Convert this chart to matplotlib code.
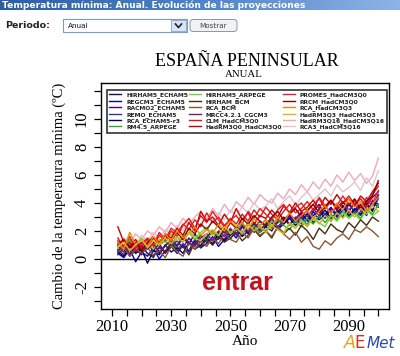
import numpy as np
import matplotlib
matplotlib.use("Agg")
import matplotlib.pyplot as plt
from matplotlib.patches import Rectangle, FancyBboxPatch
from matplotlib.colors import LinearSegmentedColormap

# ---------------- data ----------------
years = list(range(2012, 2101, 2))

models = ["HIRHAM5_ECHAM5", "REGCM3_ECHAM5", "RACMO2_ECHAM5", "REMO_ECHAM5",
          "RCA_ECHAM5-r3", "RM4.5_ARPEGE", "HIRHAM5_ARPEGE", "HIRHAM_BCM",
          "RCA_BCM", "MRCC4.2.1_CGCM3", "CLM_HadCM3Q0", "HadRM3Q0_HadCM3Q0",
          "PROMES_HadCM3Q0", "RRCM_HadCM3Q0", "RCA_HadCM3Q3", "HadRM3Q3_HadCM3Q3",
          "HadRM3Q16_HadCM3Q16", "RCA3_HadCM3Q16"]

hirham5_echam5 = [0.6,0.9,0.3,1.1,0.5, 0.8,1.2,0.4,1.0,1.3, 0.9,1.5,1.1,1.8,1.2, 1.6,2.0,1.4,2.2,1.7, 2.3,1.9,2.6,2.1,2.4, 2.8,2.2,2.6,3.0,2.5, 2.9,3.3,2.7,3.1,3.5, 2.9,3.6,3.2,3.8,3.0, 3.5,3.9,3.3,4.1,3.7]
regcm3_echam5 = [0.4,0.1,0.7,-0.2,0.5, 0.2,0.8,0.0,0.6,0.9, 0.4,1.0,0.5,1.3,0.8, 1.1,1.6,0.9,1.4,2.0, 1.5,2.3,1.8,2.6,2.0, 2.4,2.9,2.2,2.7,3.1, 2.6,3.0,2.4,3.4,2.8, 3.2,3.7,3.0,3.5,4.0, 3.3,3.8,3.1,4.2,3.9]
racmo2_echam5 = [0.9,0.5,1.2,0.7,0.3, 1.0,0.6,1.1,0.4,0.9, 1.3,0.8,1.5,1.0,1.7, 1.2,1.4,1.9,1.3,2.1, 1.8,2.4,1.9,2.2,2.7, 2.3,2.0,2.8,2.5,3.0, 2.6,3.2,2.8,3.4,3.9, 3.1,3.6,3.0,3.8,3.3, 4.2,3.5,3.9,4.4,4.8]
remo_echam5 = [0.3,0.8,0.2,0.6,1.0, 0.4,0.1,0.9,0.5,1.2, 0.7,1.1,0.6,1.4,0.9, 1.6,1.0,1.5,2.0,1.4, 2.1,1.7,2.5,1.9,2.3, 2.0,2.6,2.2,2.9,2.4, 3.0,2.5,3.3,2.8,3.6, 3.2,2.7,3.5,3.0,3.9, 3.4,3.1,3.8,3.5,4.3]
rca_echam5_r3 = [0.5,0.2,0.9,0.4,0.7, -0.3,0.6,0.3,1.0,0.5, 0.8,0.4,1.2,0.7,1.0, 1.5,1.1,1.8,1.3,1.7, 2.2,1.6,2.0,2.5,1.9, 2.3,2.7,2.1,2.5,2.9, 2.4,2.8,3.2,2.6,3.0, 3.5,2.9,3.3,3.8,3.1, 3.6,3.2,4.0,3.4,4.6]
rm45_arpege = [1.1,0.7,1.4,0.9,1.2, 0.8,1.5,1.0,1.3,0.9, 1.6,1.2,1.9,1.4,1.7, 1.3,2.0,1.6,2.3,1.8, 2.1,2.5,2.0,2.4,1.9, 2.6,2.2,2.8,2.4,2.1, 2.7,2.3,2.9,2.5,3.1, 2.6,3.2,2.8,3.4,3.0, 3.3,2.9,3.6,3.2,3.9]
hirham5_arpege = [0.8,1.3,0.6,1.0,1.5, 1.1,0.7,1.4,1.2,1.8, 1.3,1.7,2.1,1.5,1.9, 2.3,1.7,2.0,2.4,1.8, 2.2,1.9,2.6,2.1,2.4, 2.0,2.7,2.3,1.9,2.5, 2.2,2.8,2.4,3.0,2.6, 2.3,3.1,2.7,3.3,2.9, 3.2,2.8,3.5,3.1,3.4]
hirham_bcm = [0.7,0.3,1.0,0.5,0.9, 0.4,0.2,0.8,0.5,1.1, 0.6,0.9,0.3,1.2,0.8, 1.4,1.0,1.6,1.2,1.5, 1.9,1.3,1.7,2.1,1.6, 2.0,1.5,2.3,1.8,2.2, 1.7,2.4,2.0,1.4,2.2, 1.8,2.5,2.1,1.9,2.6, 2.2,2.8,2.4,3.0,2.7]
rca_bcm = [0.5,0.9,0.2,0.7,0.4, 0.8,0.3,0.6,0.1,0.9, 0.5,0.2,1.1,0.7,1.3, 0.9,1.5,1.1,1.8,1.4, 1.2,1.9,1.5,2.2,1.7, 2.0,1.6,2.3,1.8,1.4, 1.9,1.2,1.6,0.9,0.7, 1.3,1.0,1.5,1.8,1.4, 2.1,1.9,2.3,2.0,1.6]
mrcc_cgcm3 = [0.6,1.0,0.4,0.8,1.2, 0.7,1.1,0.5,0.9,1.4, 1.0,1.6,1.2,0.9,1.5, 1.8,1.3,2.0,1.6,2.2, 1.7,2.4,2.0,2.6,2.1, 2.5,2.9,2.3,2.7,3.2, 2.8,3.4,3.0,3.6,3.1, 3.8,3.3,3.7,4.1,3.5, 3.9,3.4,4.2,3.8,4.6]
clm_hadcm3q0 = [1.5,0.8,1.2,0.6,1.0, 1.4,0.9,1.7,1.3,2.0, 1.6,2.4,2.9,2.2,3.1, 2.6,3.4,2.8,2.3,2.9, 2.5,3.2,2.7,3.5,3.0, 3.7,3.2,2.8,3.4,3.9, 3.3,3.6,4.1,3.5,4.4, 3.8,4.2,3.6,4.0,4.5, 3.9,4.3,3.7,4.6,5.2]
hadrm3q0_hadcm3q0 = [2.3,1.2,0.9,1.4,0.7, 1.2,1.6,1.0,1.8,1.5, 2.2,1.7,2.6,2.0,3.4, 2.7,3.0,2.4,3.2,2.6, 3.6,2.8,3.3,2.5,3.1, 2.9,3.5,3.0,3.8,3.3, 4.0,3.4,3.7,4.2,3.6, 4.4,3.9,4.6,4.0,4.3, 3.8,4.5,4.1,4.8,5.4]
promes_hadcm3q0 = [1.3,0.9,1.6,0.8,1.1, 1.5,1.0,1.9,1.4,2.2, 1.8,2.5,2.1,2.8,2.3, 3.3,2.6,3.0,2.4,2.8, 3.1,2.5,3.4,2.9,3.6, 3.2,2.8,3.5,3.9,3.3, 3.7,4.0,3.4,3.9,4.3, 3.6,4.1,3.8,4.5,3.9, 4.2,3.7,4.4,4.0,4.9]
rrcm_hadcm3q0 = [1.0,1.4,0.8,1.2,0.6, 1.1,1.5,1.2,1.7,1.3, 1.9,1.4,2.2,1.8,2.5, 2.1,2.7,2.3,1.9,2.6, 2.2,2.9,2.5,3.1,2.7, 2.4,3.0,3.4,2.8,3.2, 3.6,3.0,3.5,3.9,3.3, 3.7,4.2,3.5,4.0,3.8, 4.3,3.6,4.1,4.5,5.6]
rca_hadcm3q3 = [1.2,0.7,1.9,1.0,1.4, 0.9,1.6,1.1,1.8,1.3, 2.0,1.5,1.8,2.3,1.7, 2.1,1.8,2.5,2.0,2.7, 2.3,2.6,2.1,2.9,2.4, 2.8,2.3,3.0,2.6,3.3, 2.7,3.1,3.5,2.9,3.4, 3.8,3.2,4.0,3.5,4.3, 3.7,4.1,3.4,3.9,4.4]
hadrm3q3_hadcm3q3 = [0.9,1.2,0.6,1.0,1.4, 0.8,1.3,1.0,1.5,1.1, 1.6,1.2,1.9,1.5,1.3, 1.8,2.1,1.7,2.3,1.9, 2.2,1.8,2.5,2.0,2.3, 1.9,2.4,2.1,1.8,2.6, 2.2,2.7,2.3,2.9,2.5, 3.1,2.7,3.3,2.9,3.5, 3.0,3.6,3.2,3.8,3.4]
hadrm3q16_hadcm3q16 = [1.0,1.5,1.1,1.8,1.4, 2.0,1.7,2.3,1.9,2.6, 2.2,2.9,2.5,3.0,3.4, 2.8,3.6,3.1,3.9,3.3, 4.1,3.7,4.4,3.9,4.6, 4.2,4.0,4.7,4.3,5.0, 4.6,5.3,4.8,5.5,5.0, 5.7,5.2,6.0,5.5,6.2, 5.6,6.1,5.4,5.9,7.2]
rca3_hadcm3q16 = [1.2,0.8,1.4,1.0,1.7, 1.3,1.9,1.5,2.1,1.7, 2.4,2.0,2.7,2.2,2.5, 3.0,2.6,3.3,2.8,3.5, 3.1,3.7,3.3,4.0,3.5, 3.8,4.3,3.6,4.1,4.5, 3.9,4.4,4.8,4.2,4.6, 5.0,4.5,5.3,4.8,5.1, 5.5,4.9,5.8,5.2,6.3]

series = [hirham5_echam5, regcm3_echam5, racmo2_echam5, remo_echam5,
          rca_echam5_r3, rm45_arpege, hirham5_arpege, hirham_bcm,
          rca_bcm, mrcc_cgcm3, clm_hadcm3q0, hadrm3q0_hadcm3q0,
          promes_hadcm3q0, rrcm_hadcm3q0, rca_hadcm3q3, hadrm3q3_hadcm3q3,
          hadrm3q16_hadcm3q16, rca3_hadcm3q16]

colors = ["#101060", "#0000E0", "#4B0082", "#3030A0",
          "#000070", "#22B022", "#66DD33", "#4A2A10",
          "#8B5530", "#7A1A7A", "#EE1111", "#CC0000",
          "#E02020", "#8B0000", "#FF8000", "#E0B020",
          "#F4A6B8", "#E8C0C8"]

xtick_labels = ["2010", "2030", "2050", "2070", "2090"]
ytick_labels = ["-2", "0", "2", "4", "6", "8", "10"]

# ---------------- figure ----------------
W, H = 400, 356
fig = plt.figure(figsize=(W / 100, H / 100), dpi=100)
fig.patch.set_facecolor("white")

# page overlay in pixel coordinates
bg = fig.add_axes([0, 0, 1, 1], zorder=0)
bg.set_axis_off()
grad = np.linspace(0, 1, 256).reshape(1, -1)
cmap = LinearSegmentedColormap.from_list("hdr", ["#2C5EA6", "#4F82C8", "#8DB4E6"])
bg.imshow(grad, extent=(0, W, 10.5, 0), aspect="auto", cmap=cmap, interpolation="bilinear")
bg.set_xlim(0, W)
bg.set_ylim(H, 0)
bg.text(2, 5.5, "Temperatura mínima: Anual. Evolución de las proyecciones",
        color="white", fontsize=6.6, fontweight="bold", va="center", ha="left",
        family="DejaVu Sans")
bg.text(5, 25.5, "Periodo:", color="#222222", fontsize=6.8, fontweight="bold",
        va="center", ha="left", family="DejaVu Sans")
bg.add_patch(Rectangle((63, 19), 124, 13, facecolor="white", edgecolor="#7F9DB9", lw=0.8))
bg.text(68, 25.5, "Anual", color="#111111", fontsize=5.2, va="center", ha="left",
        family="DejaVu Sans")
bg.add_patch(Rectangle((171, 20), 15, 11, facecolor="#D8E4F8", edgecolor="#8AA0C8", lw=0.6))
bg.plot([175.5, 178.5, 181.5], [24, 27.5, 24], color="#222222", lw=1.2)
bg.add_patch(FancyBboxPatch((190, 19.5), 47, 12, boxstyle="round,pad=0,rounding_size=3",
                            facecolor="#F2F2F2", edgecolor="#8898AA", lw=0.7))
bg.text(213.5, 25.5, "Mostrar", color="#444444", fontsize=5.2, va="center", ha="center",
        family="DejaVu Sans")

# chart titles
bg.text(247, 61, "ESPAÑA PENINSULAR", fontsize=13, family="Liberation Serif",
        ha="center", va="center", color="black")
bg.text(244, 74.5, "ANUAL", fontsize=7.8, family="Liberation Serif",
        ha="center", va="center", color="black")

# logo
bg.text(344, 343, "A", fontsize=12.5, color="#E8A020", family="DejaVu Sans",
        ha="left", va="center", style="italic")
bg.text(354.5, 343, "E", fontsize=12, color="#D8301A", family="DejaVu Sans",
        ha="left", va="center")
bg.text(366.5, 343, "Met", fontsize=11, color="#2A48A8", family="DejaVu Sans",
        ha="left", va="center", style="italic")

# main plot
ax = fig.add_axes([101 / W, 1 - 309 / H, 288 / W, 226 / H], zorder=2)
ax.set_facecolor("white")
order = [16, 17] + [i for i in range(16)]
handles = {}
for i in order:
    ln, = ax.plot(years, series[i], color=colors[i], lw=1.0, label=models[i])
    handles[i] = ln

ax.axhline(0, color="black", lw=1.0)
ax.set_xlim(2006.3, 2103.6)
ax.set_ylim(-3.57, 12.57)

ax.set_xticks([int(s) for s in xtick_labels])
ax.set_xticklabels(xtick_labels)
ax.set_xticks(list(range(2010, 2101, 5)), minor=True)
ax.set_yticks([int(s) for s in ytick_labels])
ax.set_yticklabels(ytick_labels, rotation=90, va="center")
ax.set_yticks(list(range(-3, 13)), minor=True)
for lab in ax.get_xticklabels() + ax.get_yticklabels():
    lab.set_family("Liberation Serif")
    lab.set_fontsize(12)
ax.tick_params(axis="both", which="both", length=5, width=0.9, color="black", direction="out")
ax.tick_params(axis="x", which="both", pad=2)
ax.tick_params(axis="y", which="both", pad=3)
for sp in ax.spines.values():
    sp.set_linewidth(1.0)
    sp.set_color("black")

ax.set_xlabel("Año", family="Liberation Serif", fontsize=11, labelpad=0)
ax.set_ylabel("Cambio de la temperatura mínima (ºC)", family="Liberation Serif",
              fontsize=10.5, labelpad=6)

leg = ax.legend([handles[i] for i in range(18)], models, ncol=3, mode="expand",
                loc="upper left", bbox_to_anchor=(0.021, 0.801, 0.972, 0.168),
                fontsize=4.3, frameon=True, fancybox=False, edgecolor="black",
                handlelength=2.0, handletextpad=0.8, borderpad=0.4,
                labelspacing=0.05, columnspacing=1.0, borderaxespad=0)
leg.get_frame().set_linewidth(1.2)
for t in leg.get_texts():
    t.set_fontweight("bold")
    t.set_color("#222222")

# overlay link text
ax.text(0.475, 0.115, "entrar", transform=ax.transAxes, fontsize=18, fontweight="bold",
        family="Liberation Sans", color="#C8101C", ha="center", va="center", zorder=5)

fig.savefig("out.png", dpi=100, facecolor="white")
